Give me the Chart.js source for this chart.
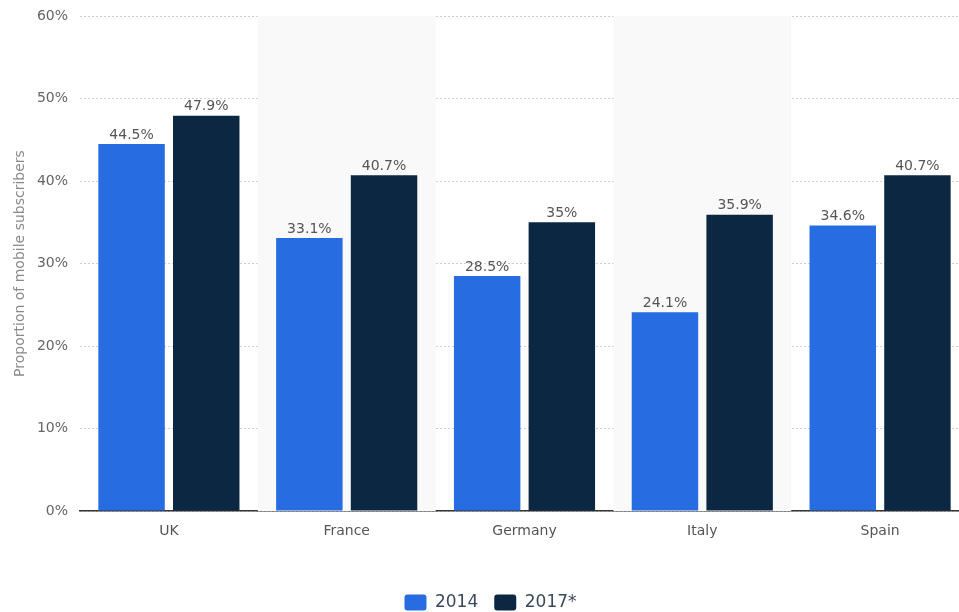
<!DOCTYPE html>
<html>
<head>
<meta charset="utf-8">
<script src="https://cdn.jsdelivr.net/npm/chart.js@4.4.1/dist/chart.umd.min.js"></script>
<style>
  html, body { margin: 0; padding: 0; background: #fff; overflow: hidden; }
  #wrap { width: 970px; height: 612px; position: relative; }
</style>
</head>
<body>
<div id="wrap"><canvas id="c"></canvas></div>
<script>
const countries = ['UK', 'France', 'Germany', 'Italy', 'Spain'];
const share2014 = [44.5, 33.1, 28.5, 24.1, 34.6];
const share2017 = [47.9, 40.7, 35, 35.9, 40.7];
const seriesNames = ['2014', '2017*'];
const yTicks = [0, 10, 20, 30, 40, 50, 60];

const FONT = "'DejaVu Sans', Verdana, sans-serif";

// Light shaded band behind every other category
const bandPlugin = {
  id: 'bands',
  beforeDatasetsDraw(chart) {
    const { ctx, chartArea, scales } = chart;
    const x = scales.x;
    const step = x.getPixelForValue(1) - x.getPixelForValue(0);
    ctx.save();
    ctx.fillStyle = '#f9f9f9';
    for (let i = 1; i < countries.length; i += 2) {
      const cx = x.getPixelForValue(i);
      ctx.fillRect(cx - step / 2, chartArea.top, step, chartArea.bottom - chartArea.top);
    }
    ctx.restore();
  }
};

// Value labels above each bar
const valueLabels = {
  id: 'valueLabels',
  afterDatasetsDraw(chart) {
    const { ctx } = chart;
    ctx.save();
    ctx.font = '14px ' + FONT;
    ctx.fillStyle = '#555';
    ctx.textAlign = 'center';
    ctx.textBaseline = 'bottom';
    chart.data.datasets.forEach((ds, di) => {
      chart.getDatasetMeta(di).data.forEach((bar, i) => {
        ctx.fillText(ds.data[i] + '%', bar.x, bar.y - 2);
      });
    });
    ctx.restore();
  }
};

new Chart(document.getElementById('c'), {
  type: 'bar',
  data: {
    labels: countries,
    datasets: [
      { label: seriesNames[0], data: share2014, backgroundColor: '#276ce0' },
      { label: seriesNames[1], data: share2017, backgroundColor: '#0c2741' }
    ]
  },
  options: {
    responsive: true,
    maintainAspectRatio: false,
    animation: false,
    layout: { padding: { top: 0, right: 1, bottom: -9, left: 12 } },
    datasets: { bar: { categoryPercentage: 0.84, barPercentage: 0.89 } },
    plugins: {
      legend: {
        position: 'bottom',
        labels: {
          font: { size: 17, family: FONT },
          color: '#3a4a5c',
          boxWidth: 22,
          boxHeight: 16,
          useBorderRadius: true,
          borderRadius: 3,
          padding: 16
        }
      },
      tooltip: { enabled: false }
    },
    scales: {
      x: {
        grid: { display: false, drawTicks: false },
        border: { display: true, color: '#333', width: 1.5 },
        ticks: { color: '#555', font: { size: 14, family: FONT }, padding: 12 },
        afterFit(s) { s.height = 67; }
      },
      y: {
        min: 0,
        max: 60,
        afterBuildTicks(s) { s.ticks = yTicks.map(v => ({ value: v })); },
        ticks: {
          color: '#666',
          font: { size: 14, family: FONT },
          padding: 12,
          callback: v => v + '%'
        },
        grid: { color: '#cfcfcf', drawTicks: false, lineWidth: 1 },
        border: { display: false, dash: [2, 2] },
        title: {
          display: true,
          text: 'Proportion of mobile subscribers',
          color: '#8a8a8a',
          font: { size: 14, family: FONT },
          padding: { top: 0, bottom: 4 }
        },
        afterFit(s) { s.width = 68; s.paddingTop = 16; s.paddingBottom = 0; }
      }
    }
  },
  plugins: [bandPlugin, valueLabels]
});
</script>
</body>
</html>
